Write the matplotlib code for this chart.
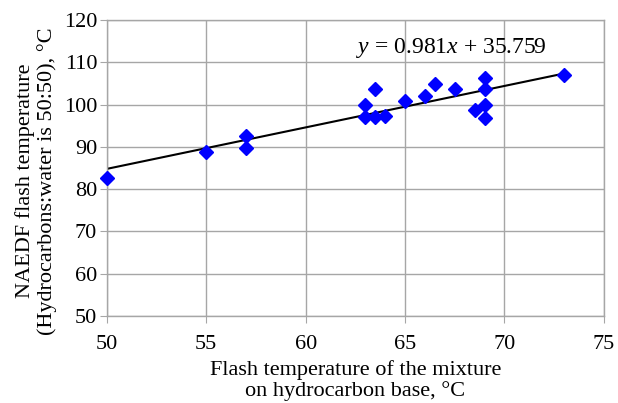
import matplotlib
matplotlib.use("Agg")
import matplotlib.pyplot as plt
import numpy as np

plt.rcParams['font.family'] = ['Liberation Serif', 'DejaVu Serif']
plt.rcParams['mathtext.fontset'] = 'custom'
plt.rcParams['mathtext.it'] = 'Liberation Serif:italic'
plt.rcParams['mathtext.rm'] = 'Liberation Serif'

x_mix = [50, 55, 57, 57, 63, 63, 63.5, 63.5, 64, 65, 66, 66.5, 67.5, 68.5, 69, 69, 69, 69, 73]
y_naedf = [82.6, 88.8, 92.7, 89.8, 100.0, 97.0, 103.8, 97.0, 97.2, 100.8, 102.0, 104.8, 103.8, 98.8, 106.2, 103.6, 99.9, 96.8, 107.0]
slope, intercept = 0.981, 35.759
x_ticks = [50, 55, 60, 65, 70, 75]
y_ticks = [50, 60, 70, 80, 90, 100, 110, 120]

fig = plt.figure(figsize=(6.18, 4.03), dpi=100)
ax = fig.add_axes([0.173, 0.216, 0.804, 0.734])

ax.set_xlim(50, 75)
ax.set_ylim(50, 120)
ax.set_xticks(x_ticks)
ax.set_yticks(y_ticks)
ax.grid(True, color='#a6a6a6', linewidth=1.0)
ax.set_axisbelow(True)
for s in ax.spines.values():
    s.set_color('#a6a6a6')
    s.set_linewidth(1.0)
ax.tick_params(direction='out', length=5, color='#a6a6a6', labelsize=16, pad=2)
ax.tick_params(axis='x', pad=9)

xl = np.array([min(x_mix), max(x_mix)])
ax.plot(xl, slope * xl + intercept, color='black', linewidth=1.5, zorder=2)
ax.plot(x_mix, y_naedf, linestyle='none', marker='D', markersize=7,
        color='#0000ff', zorder=3, clip_on=False)

ax.text(67.3, 113.4, r'$y$ = 0.981$x$ + 35.759', fontsize=17, ha='center', va='center')

ax.set_xlabel('Flash temperature of the mixture\non hydrocarbon base, °C', fontsize=16, labelpad=4, linespacing=1.1)
ax.set_ylabel('NAEDF flash temperature\n(Hydrocarbons:water is 50:50), °C', fontsize=16, linespacing=1.15)
ax.yaxis.set_label_coords(-0.100, 0.456)

fig.savefig('out.png', dpi=100)
